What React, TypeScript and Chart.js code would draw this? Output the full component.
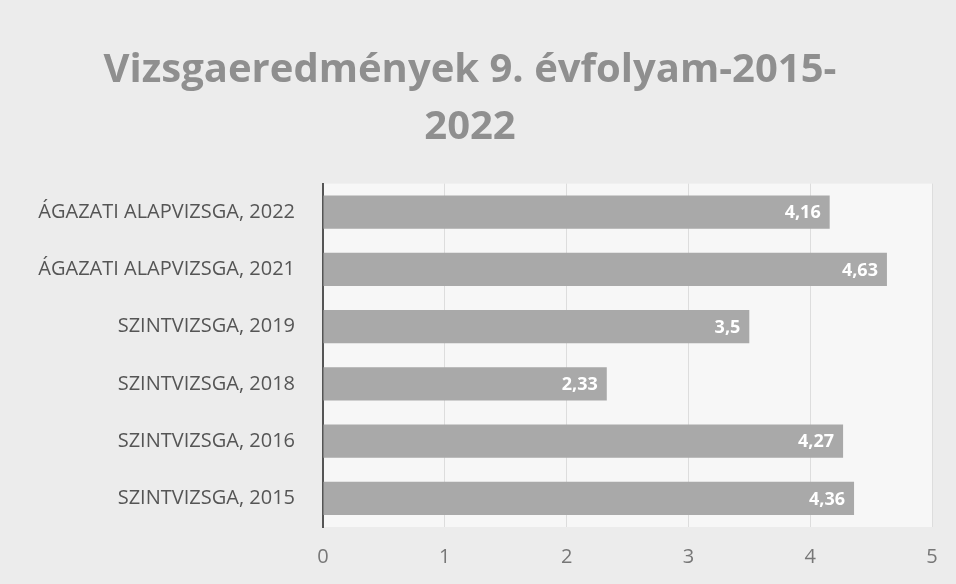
import React, { useEffect, useRef } from "react";
import { Chart, registerables } from "chart.js";

Chart.register(...registerables);

const categories = [
  "ÁGAZATI ALAPVIZSGA, 2022",
  "ÁGAZATI ALAPVIZSGA, 2021",
  "SZINTVIZSGA, 2019",
  "SZINTVIZSGA, 2018",
  "SZINTVIZSGA, 2016",
  "SZINTVIZSGA, 2015",
];
const values = [4.16, 4.63, 3.5, 2.33, 4.27, 4.36];
const titleLines = ["Vizsgaeredmények 9. évfolyam-2015-", "2022"];
const xMin = 0;
const xMax = 5;

const FONT = "'Open Sans', 'Noto Sans', sans-serif";

const bgPlugin = {
  id: "bg",
  beforeDraw(chart: any) {
    const { ctx, width, height } = chart;
    ctx.save();
    ctx.fillStyle = "#ececec";
    ctx.fillRect(0, 0, width, height);
    const a = chart.chartArea;
    ctx.fillStyle = "#f7f7f7";
    ctx.fillRect(a.left, a.top, a.right - a.left, a.bottom - a.top);
    ctx.restore();
  },
};

const labelPlugin = {
  id: "barLabels",
  afterDatasetsDraw(chart: any) {
    const { ctx } = chart;
    const meta = chart.getDatasetMeta(0);
    ctx.save();
    ctx.font = `bold 18px ${FONT}`;
    ctx.fillStyle = "#ffffff";
    ctx.textAlign = "right";
    ctx.textBaseline = "middle";
    meta.data.forEach((bar: any, i: number) => {
      const txt = String(values[i]).replace(".", ",");
      ctx.fillText(txt, bar.x - 9, bar.y + 1);
    });
    ctx.restore();
  },
};

export default function App() {
  const ref = useRef<HTMLCanvasElement>(null);
  useEffect(() => {
    if (!ref.current) return;
    const chart = new Chart(ref.current, {
      type: "bar",
      data: {
        labels: categories,
        datasets: [
          {
            data: values,
            backgroundColor: "#a9a9a9",
            categoryPercentage: 0.58,
            barPercentage: 1,
          },
        ],
      },
      options: {
        indexAxis: "y",
        animation: false,
        responsive: false,
        maintainAspectRatio: false,
        layout: { padding: { left: 8, right: 24, top: 14, bottom: 0 } },
        plugins: {
          legend: { display: false },
          tooltip: { enabled: false },
          title: {
            display: true,
            text: titleLines,
            color: "#8f8f8f",
            font: { family: FONT, size: 40, weight: "bold", lineHeight: 1.42 },
            padding: { top: 28, bottom: 28 },
          },
        },
        scales: {
          x: {
            min: xMin,
            max: xMax,
            ticks: {
              stepSize: 1,
              color: "#777777",
              font: { family: FONT, size: 20 },
              padding: 18,
            },
            grid: { color: "#dddddd", drawTicks: false, lineWidth: 1 },
            border: { display: false },
            afterFit(scale: any) {
              scale.height = 57;
            },
          },
          y: {
            ticks: {
              color: "#555555",
              font: { family: FONT, size: 20 },
              padding: 20,
            },
            grid: { display: false },
            border: { display: true, color: "#555555", width: 2 },
            afterFit(scale: any) {
              scale.width = 315;
            },
          },
        },
      },
      plugins: [bgPlugin, labelPlugin],
    });
    return () => chart.destroy();
  }, []);
  return (
    <div style={{ position: "fixed", left: 0, top: 0, width: 956, height: 584 }}>
      <canvas ref={ref} width={956} height={584} style={{ width: 956, height: 584 }} />
    </div>
  );
}
